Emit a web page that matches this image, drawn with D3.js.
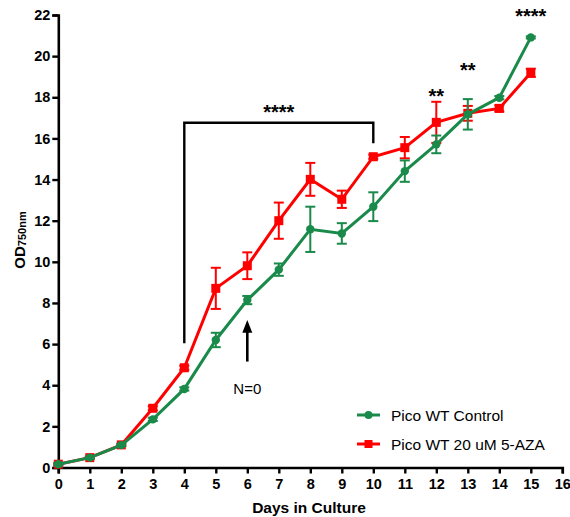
<!DOCTYPE html>
<html>
<head>
<meta charset="utf-8">
<script src="https://cdn.jsdelivr.net/npm/d3@7"></script>
<style>
  body { margin: 0; background: #fff; }
  svg { font-family: "Liberation Sans", Arial, sans-serif; }
</style>
</head>
<body>
<svg id="myGraph" width="570" height="517"></svg>
<script>
// データ
var days = [0, 1, 2, 3, 4, 5, 6, 7, 8, 9, 10, 11, 12, 13, 14, 15];
var controlMean = [0.16, 0.48, 1.09, 2.34, 3.82, 6.2, 8.14, 9.62, 11.58, 11.38, 12.68, 14.41, 15.71, 17.17, 17.98, 20.91];
var controlErr  = [0.05, 0.05, 0.05, 0.08, 0.08, 0.35, 0.2, 0.3, 1.1, 0.5, 0.7, 0.52, 0.43, 0.74, 0.08, 0.05];
var azaMean = [0.16, 0.48, 1.1, 2.88, 4.85, 8.71, 9.81, 12.0, 14.01, 13.04, 15.11, 15.55, 16.78, 17.22, 17.46, 19.19];
var azaErr  = [0.05, 0.05, 0.05, 0.1, 0.1, 1.0, 0.65, 0.88, 0.8, 0.42, 0.1, 0.52, 1.0, 0.36, 0.15, 0.2];
var xTicks = d3.range(0, 17);
var yTicks = d3.range(0, 23, 2);
var seriesNames = ["Pico WT Control", "Pico WT 20 uM 5-AZA"];
var sigLabels = [{day: 12, y: 17.7, text: "**"}, {day: 13, y: 19.0, text: "**"}, {day: 15, y: 21.6, text: "****"}];

var green = "#1a8a4a";
var red = "#ff0000";

var svg = d3.select("#myGraph");
var x = d3.scaleLinear().domain([0, 16]).range([58.3, 562.3]);
var y = d3.scaleLinear().domain([0, 22]).range([467.5, 15]);

// 軸
var xAxis = svg.append("g")
    .attr("transform", "translate(0," + y(0) + ")")
    .call(d3.axisBottom(x).tickValues(xTicks).tickSize(6).tickPadding(5).tickFormat(d3.format("d")));
var yAxis = svg.append("g")
    .attr("transform", "translate(" + x(0) + ",0)")
    .call(d3.axisLeft(y).tickValues(yTicks).tickSize(6).tickPadding(2).tickFormat(d3.format("d")));

[xAxis, yAxis].forEach(function(a){
    a.select(".domain").attr("stroke", "#000").attr("stroke-width", 2.6);
    a.selectAll(".tick line").attr("stroke", "#000").attr("stroke-width", 2.4);
    a.selectAll(".tick text").attr("fill", "#000").style("font-size", "14.5px").style("font-weight", "bold");
});

// 軸ラベル
svg.append("text")
    .attr("x", 309).attr("y", 513)
    .attr("text-anchor", "middle")
    .style("font-size", "15.5px").style("font-weight", "bold")
    .text("Days in Culture");

var yl = svg.append("text")
    .attr("transform", "translate(25,240) rotate(-90)")
    .attr("text-anchor", "middle")
    .style("font-size", "15px").style("font-weight", "bold");
yl.append("tspan").text("OD");
yl.append("tspan").attr("dy", 1).style("font-size", "11px").text("750nm");

// 有意差ブラケット
var bracket = d3.line()([[x(4), y(6.04)], [x(4), y(16.76)], [x(10), y(16.76)], [x(10), y(15.76)]]);
svg.append("path").attr("d", bracket)
    .attr("fill", "none").attr("stroke", "#000").attr("stroke-width", 2.4);
svg.append("text")
    .attr("x", x(7)).attr("y", y(16.76) - 4)
    .attr("text-anchor", "middle")
    .style("font-size", "20px").style("font-weight", "bold")
    .text("****");

sigLabels.forEach(function(s){
    svg.append("text")
        .attr("x", x(s.day)).attr("y", y(s.y))
        .attr("text-anchor", "middle")
        .style("font-size", "20px").style("font-weight", "bold")
        .text(s.text);
});

// 矢印 N=0
svg.append("line")
    .attr("x1", x(6)).attr("x2", x(6))
    .attr("y1", y(5.15)).attr("y2", y(6.7))
    .attr("stroke", "#000").attr("stroke-width", 2.6);
svg.append("path")
    .attr("d", d3.line()([[x(6) - 5, y(6.55)], [x(6), y(7.17)], [x(6) + 5, y(6.55)]]) + "Z")
    .attr("fill", "#000");
svg.append("text")
    .attr("x", x(6)).attr("y", y(3.55))
    .attr("text-anchor", "middle")
    .style("font-size", "15px")
    .text("N=0");

// 系列
function drawSeries(mean, err, color, shape){
    var g = svg.append("g");
    var pts = days.map(function(d, i){ return {day: d, m: mean[i], e: err[i]}; });
    g.selectAll("line.err").data(pts).enter().append("line")
        .attr("x1", function(d){ return x(d.day); })
        .attr("x2", function(d){ return x(d.day); })
        .attr("y1", function(d){ return y(d.m - d.e); })
        .attr("y2", function(d){ return y(d.m + d.e); })
        .attr("stroke", color).attr("stroke-width", 2);
    [-1, 1].forEach(function(s){
        g.selectAll("line.cap" + s).data(pts).enter().append("line")
            .attr("x1", function(d){ return x(d.day) - 5; })
            .attr("x2", function(d){ return x(d.day) + 5; })
            .attr("y1", function(d){ return y(d.m + s * d.e); })
            .attr("y2", function(d){ return y(d.m + s * d.e); })
            .attr("stroke", color).attr("stroke-width", 2);
    });
    g.append("path").datum(pts)
        .attr("d", d3.line().x(function(d){ return x(d.day); }).y(function(d){ return y(d.m); }))
        .attr("fill", "none").attr("stroke", color).attr("stroke-width", 3);
    if (shape === "circle") {
        g.selectAll("circle").data(pts).enter().append("circle")
            .attr("cx", function(d){ return x(d.day); })
            .attr("cy", function(d){ return y(d.m); })
            .attr("r", 4.2).attr("fill", color);
    } else {
        g.selectAll("rect").data(pts).enter().append("rect")
            .attr("x", function(d){ return x(d.day) - 4.5; })
            .attr("y", function(d){ return y(d.m) - 4.5; })
            .attr("width", 9).attr("height", 9).attr("fill", color);
    }
}
drawSeries(azaMean, azaErr, red, "square");
drawSeries(controlMean, controlErr, green, "circle");

// 凡例
var legend = [{name: seriesNames[0], color: green, shape: "circle", yy: 415},
              {name: seriesNames[1], color: red, shape: "square", yy: 444}];
legend.forEach(function(l){
    svg.append("line").attr("x1", 357).attr("x2", 380).attr("y1", l.yy).attr("y2", l.yy)
        .attr("stroke", l.color).attr("stroke-width", 3);
    if (l.shape === "circle") {
        svg.append("circle").attr("cx", 368.5).attr("cy", l.yy).attr("r", 4).attr("fill", l.color);
    } else {
        svg.append("rect").attr("x", 364.5).attr("y", l.yy - 4).attr("width", 8).attr("height", 8).attr("fill", l.color);
    }
    svg.append("text").attr("x", 391).attr("y", l.yy + 5.5)
        .style("font-size", "15.5px").text(l.name);
});
</script>
</body>
</html>
